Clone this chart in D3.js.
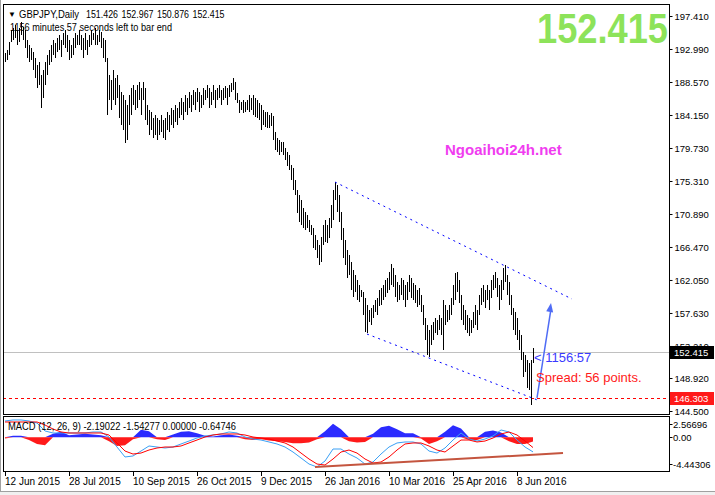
<!DOCTYPE html>
<html>
<head>
<meta charset="utf-8">
<script src="https://cdnjs.cloudflare.com/ajax/libs/d3/7.8.5/d3.min.js"></script>
<style>
body { margin: 0; background: #fff; }
text { font-family: "Liberation Sans", Arial, sans-serif; }
</style>
</head>
<body>
<script>
// daily bars, high and low, one per trading day from 12 Jun 2015
var barHigh = [
 192.45,192.86,193.9,195.5,195.8,196.2,195.5,195.8,196.6,195.9,
 195.5,194.2,193.5,193.1,192.6,191.8,190.85,191.2,189.5,190.2,
 191.2,192.2,192.9,193.5,194.2,193.8,194.5,194.9,194.2,195.1,
 195.5,194.9,194.2,193.5,194.5,195.1,194.9,195.5,194.9,194.5,
 195.1,194.2,194.9,195.5,195.1,195.8,194.9,195.5,195.3,194.5,
 194.2,191.8,189.5,188.8,190.2,189.1,189.5,188.2,187.2,186.8,
 186.2,185.5,186.8,187.8,188.2,187.5,188.2,188.6,187.8,188.6,
 187.8,185.5,184.8,184.6,183.7,184.15,183.7,183.5,184.15,183.5,
 183.7,184.6,184.15,185.1,184.8,185.5,185.1,185.9,186.4,185.9,
 186.8,186.4,187.2,186.8,187.5,187.2,187.8,187.2,186.8,187.8,
 187.5,188.2,187.8,187.2,188.2,187.5,187.8,188.2,187.5,187.8,
 188.0,187.8,188.2,188.4,189.1,188.6,187.1,186.2,185.9,186.2,
 185.9,186.2,186.8,186.4,186.8,186.4,186.2,185.8,185.5,184.8,
 184.6,184.6,184.15,184.4,184.0,181.9,181.1,180.8,180.5,180.5,
 179.7,179.2,178.8,177.45,177.0,175.4,174.1,173.4,172.8,171.7,
 171.2,170.8,170.1,169.4,169.0,168.1,167.4,166.7,167.8,169.4,
 170.1,169.4,170.3,172.1,174.1,175.2,174.8,173.4,171.2,169.0,
 167.4,166.1,165.4,164.5,163.4,162.7,162.05,161.4,160.7,160.4,
 159.6,158.7,158.0,158.3,158.7,159.4,159.6,160.7,161.0,161.4,
 162.05,162.3,163.1,164.2,163.7,162.7,161.8,161.4,162.3,162.05,
 161.4,161.8,162.7,162.3,161.6,161.4,160.7,161.0,160.0,158.7,
 156.9,156.0,155.4,156.0,156.4,156.9,156.7,157.4,156.9,159.4,
 158.7,158.0,158.7,159.6,161.4,163.0,163.1,162.05,160.0,158.7,
 158.0,157.4,156.9,156.7,157.7,158.7,158.0,160.0,161.0,161.4,
 160.7,161.4,160.7,162.05,162.7,163.1,162.3,161.4,162.05,163.7,
 164.06,162.7,161.8,160.0,158.3,157.7,156.9,155.4,154.7,152.4,
 152.0,151.3,150.9,151.3,152.967
];
var barLow = [
 191.25,191.52,192.2,193.9,194.2,194.5,193.5,193.9,194.9,194.2,
 193.1,191.8,191.2,191.5,190.2,189.1,187.8,188.2,185.1,186.4,
 188.2,189.5,190.85,191.2,192.2,191.8,192.6,192.9,191.9,193.5,
 193.1,192.6,191.5,191.8,192.2,193.1,193.5,193.5,192.9,191.8,
 192.9,192.2,193.2,193.5,194.2,193.5,193.5,193.9,193.1,191.8,
 191.2,184.15,186.2,184.8,186.2,185.5,186.4,183.7,182.8,182.1,
 180.4,180.8,182.8,184.15,185.5,184.8,185.1,186.2,184.15,186.2,
 183.5,182.8,181.5,182.1,181.1,181.5,180.8,181.5,181.9,181.1,
 180.8,182.1,181.9,182.8,182.4,183.2,182.8,183.7,184.15,183.5,
 184.6,184.15,185.1,184.6,185.5,184.8,185.9,184.6,185.1,185.5,
 186.2,186.4,185.1,185.5,186.2,185.1,186.2,186.4,185.5,186.2,
 186.4,185.5,186.6,187.2,187.5,186.2,185.8,184.4,184.8,184.4,
 184.6,184.8,184.6,184.8,184.15,183.9,183.7,183.5,182.1,182.8,
 182.5,182.4,182.4,182.7,180.8,179.5,179.2,178.8,179.2,178.8,
 178.1,177.3,176.8,175.4,174.1,173.4,171.0,169.8,169.4,169.0,
 168.75,169.0,168.5,168.1,166.3,166.1,165.0,164.06,164.5,166.7,
 167.1,167.0,167.7,169.0,170.1,172.8,171.2,169.8,167.4,165.0,
 164.1,162.3,162.7,160.7,159.8,160.4,159.4,159.1,159.8,157.4,
 155.1,154.9,156.4,156.0,157.0,157.8,157.4,158.6,158.7,159.4,
 159.8,160.3,160.7,161.4,161.1,159.8,159.1,159.4,160.0,159.4,
 158.4,159.4,160.4,159.6,159.4,158.9,158.4,158.7,157.8,156.0,
 154.0,152.0,151.7,153.3,154.0,154.9,154.7,155.4,154.7,152.7,
 156.0,156.4,156.7,157.4,158.7,159.4,160.4,158.9,156.7,156.0,
 155.4,154.9,154.5,154.9,155.6,156.0,155.4,157.4,158.7,159.1,
 158.3,159.4,158.0,159.6,160.7,161.0,159.8,158.0,159.4,160.7,
 161.8,160.0,158.7,157.4,155.4,154.7,154.0,152.7,151.3,149.0,
 149.7,147.6,147.3,145.3,150.876
];

// MACD (12, 26, 9), read every 4th bar
var macdStep = 4;
var macdMain = [
 2.42,2.57,2.57,2.42,2.12,0.93,0.63,0.63,0.63,0.63,
 0.63,0.78,0.78,0.03,-1.46,-2.95,-2.80,-2.06,-1.31,-1.46,
 -1.61,-1.46,-1.01,-0.57,-0.12,0.18,0.33,0.48,0.78,0.63,
 0.03,-0.27,-0.42,-0.71,-1.01,-1.46,-2.21,-3.10,-4.00,-4.44,
 -3.55,-1.76,-1.76,-2.51,-3.10,-4.00,-3.70,-2.51,-1.46,-0.86,
 -0.71,-0.71,-1.01,-2.06,-2.36,-1.61,-0.42,0.63,-0.27,-0.57,
 -0.27,0.18,1.08,0.78,-0.42,-1.46,-2.19
];
var macdSignal = [
 2.27,2.27,2.27,2.27,2.27,1.82,1.22,0.78,0.63,0.63,
 0.63,0.63,0.63,0.33,-0.86,-2.06,-2.51,-2.36,-1.91,-1.61,
 -1.46,-1.46,-1.31,-0.86,-0.42,0.03,0.33,0.48,0.48,0.48,
 0.33,0.03,-0.12,-0.27,-0.57,-0.86,-1.46,-2.36,-3.25,-4.00,
 -4.15,-3.25,-2.21,-1.91,-2.36,-3.25,-3.85,-3.70,-2.95,-1.91,
 -1.01,-0.86,-0.86,-1.31,-1.91,-2.21,-1.31,-0.42,-0.42,-0.71,
 -0.57,-0.12,0.48,0.78,0.33,-0.57,-1.54
];
var macdHist = [
 -0.2,0.2,0.2,-0.4,-1.0,-1.2,0.5,0.8,0.3,0.4,
 0.5,0.4,0.3,-0.6,-1.3,-1.2,-0.3,1.1,0.9,-0.3,
 -0.4,0.4,0.8,0.9,0.6,0.2,0.1,0.3,0.4,0.2,
 -0.3,-0.4,-0.3,-0.5,-0.6,-0.7,-0.9,-0.9,-0.8,-0.3,
 0.9,2.0,1.2,-0.6,-0.8,-0.7,0.5,1.5,1.7,1.2,
 0.6,0.6,-0.2,-1.0,-0.6,0.8,1.8,1.3,-0.4,-0.4,
 0.8,1.0,0.7,-0.6,-1.0,-1.0,-0.65
];

var priceTicks = [197.41,192.99,188.57,184.15,179.73,175.31,170.89,166.47,162.05,157.63,153.21,148.92,144.5];
var macdTicks = [2.56696, 0, -4.44306];
var macdTickText = ["2.56696", "0.00", "-4.44306"];
var dateBars = [0, 32, 64, 96, 128, 160, 192, 224, 256];
var dateLabels = ["12 Jun 2015","28 Jul 2015","10 Sep 2015","26 Oct 2015","9 Dec 2015","26 Jan 2016","10 Mar 2016","25 Apr 2016","8 Jun 2016"];
var headerQuotes = ["151.426", "152.967", "150.876", "152.415"];

var lastPrice = 152.415;
var markPrice = 146.303;
// drawn objects: [bar index, price]
var channelUpper = [[165, 175.17], [283.5, 159.5]];
var channelLower = [[181, 154.81], [267.5, 145.84]];
var arrowLine = [[266, 146.25], [273, 158.97]];
var macdTrend = [[155, -4.44], [279, -2.36]];

function init(){

    var w = 715;
    var h = 495;
    var left = 3, right = 669, top = 4, mainBottom = 414, subTop = 416, subBottom = 471;

    var svg = d3.select("body")
                .append("svg")
                .attr("width", w)
                .attr("height", h)
                .style("display", "block");

    svg.append("rect").attr("width", w).attr("height", h).attr("fill", "#fff");

    var x = d3.scaleLinear().domain([0, 264]).range([5, 533]);
    var y = d3.scaleLinear().domain([144.5, 197.41]).range([411, 16]);
    var my = d3.scaleLinear().domain([-4.44306, 2.56696]).range([467, 420]);

    svg.append("clipPath").attr("id", "mainClip")
        .append("rect").attr("x", left).attr("y", top)
        .attr("width", right - left).attr("height", mainBottom - top);
    svg.append("clipPath").attr("id", "subClip")
        .append("rect").attr("x", left).attr("y", subTop)
        .attr("width", right - left).attr("height", subBottom - subTop);

    var main = svg.append("g").attr("clip-path", "url(#mainClip)");

    // current price line and marked low
    main.append("line")
        .attr("x1", left).attr("x2", right)
        .attr("y1", Math.round(y(lastPrice)) + 0.5).attr("y2", Math.round(y(lastPrice)) + 0.5)
        .attr("stroke", "#c0c0c0");
    main.append("line")
        .attr("x1", left).attr("x2", right)
        .attr("y1", Math.round(y(markPrice)) + 0.5).attr("y2", Math.round(y(markPrice)) + 0.5)
        .attr("stroke", "#ff0000")
        .attr("stroke-dasharray", "3,3");

    // bars
    main.selectAll("line.bar")
        .data(barHigh)
        .enter()
        .append("line")
        .attr("class", "bar")
        .attr("x1", function(d, i){ return Math.round(x(i)) + 0.5; })
        .attr("x2", function(d, i){ return Math.round(x(i)) + 0.5; })
        .attr("y1", function(d){ return y(d); })
        .attr("y2", function(d, i){ return y(barLow[i]); })
        .attr("stroke", "#000")
        .attr("stroke-width", 1)
        .attr("shape-rendering", "crispEdges");

    // channel
    var line = d3.line()
        .x(function(d){ return x(d[0]); })
        .y(function(d){ return y(d[1]); });
    [channelUpper, channelLower].forEach(function(c){
        main.append("path")
            .attr("d", line(c))
            .attr("fill", "none")
            .attr("stroke", "#0000ff")
            .attr("stroke-width", 1)
            .attr("stroke-dasharray", "2,4");
    });

    // arrow
    var ax1 = x(arrowLine[0][0]), ay1 = y(arrowLine[0][1]);
    var ax2 = x(arrowLine[1][0]), ay2 = y(arrowLine[1][1]);
    main.append("line")
        .attr("x1", ax1).attr("y1", ay1).attr("x2", ax2).attr("y2", ay2 + 6)
        .attr("stroke", "#4f6cf5").attr("stroke-width", 1.5);
    var ang = Math.atan2(ay2 - ay1, ax2 - ax1);
    var hl = 9, hw = 3.5;
    var bx = ax2 - hl * Math.cos(ang), by = ay2 - hl * Math.sin(ang);
    main.append("path")
        .attr("d", "M" + ax2 + "," + ay2 +
            "L" + (bx + hw * Math.sin(ang)) + "," + (by - hw * Math.cos(ang)) +
            "L" + (bx - hw * Math.sin(ang)) + "," + (by + hw * Math.cos(ang)) + "Z")
        .attr("fill", "#4f6cf5");

    // header
    svg.append("text").attr("x", 8).attr("y", 17)
        .style("font-size", "8px")
        .text("\u25BC");
    svg.append("text").attr("x", 19).attr("y", 18)
        .style("font-size", "10.5px")
        .attr("textLength", 60).attr("lengthAdjust", "spacingAndGlyphs")
        .text("GBPJPY,Daily");
    headerQuotes.forEach(function(q, i){
        svg.append("text").attr("x", 86 + i * 35.5).attr("y", 18)
            .style("font-size", "10.5px")
            .attr("textLength", 32).attr("lengthAdjust", "spacingAndGlyphs")
            .text(q);
    });
    svg.append("text").attr("x", 10).attr("y", 31)
        .style("font-size", "10.5px")
        .attr("textLength", 162).attr("lengthAdjust", "spacingAndGlyphs")
        .text("1156 minutes 57 seconds left to bar end");

    svg.append("text")
        .attr("transform", "translate(537,43) scale(1,1.2)")
        .attr("textLength", 131).attr("lengthAdjust", "spacingAndGlyphs")
        .style("font-size", "36px").style("font-weight", "bold")
        .attr("fill", "#8de35a")
        .text("152.415");

    svg.append("text").attr("x", 445).attr("y", 155)
        .style("font-size", "15px").style("font-weight", "bold")
        .attr("fill", "#f03cf0")
        .text("Ngoaihoi24h.net");

    svg.append("text").attr("x", 534).attr("y", 362)
        .style("font-size", "13px")
        .attr("fill", "#3a3aff")
        .text("< 1156:57");
    svg.append("text").attr("x", 536).attr("y", 382)
        .style("font-size", "13px")
        .attr("fill", "#ff1a1a")
        .text("Spread: 56 points.");

    // MACD window
    var sub = svg.append("g").attr("clip-path", "url(#subClip)");
    var sx = function(d, i){ return x(i * macdStep); };

    sub.append("path")
        .datum(macdHist)
        .attr("d", d3.area().x(sx).y0(my(0)).y1(function(d){ return my(Math.max(d, 0)); }))
        .attr("fill", "#2b2bff");
    sub.append("path")
        .datum(macdHist)
        .attr("d", d3.area().x(sx).y0(my(0)).y1(function(d){ return my(Math.min(d, 0)); }))
        .attr("fill", "#ff1a1a");

    sub.append("path")
        .datum(macdMain)
        .attr("d", d3.line().x(sx).y(function(d){ return my(d); }))
        .attr("fill", "none").attr("stroke", "#3aa0f5").attr("stroke-width", 1);
    sub.append("path")
        .datum(macdSignal)
        .attr("d", d3.line().x(sx).y(function(d){ return my(d); }))
        .attr("fill", "none").attr("stroke", "#ff0000").attr("stroke-width", 1);

    sub.append("path")
        .datum(macdTrend)
        .attr("d", d3.line().x(function(d){ return x(d[0]); }).y(function(d){ return my(d[1]); }))
        .attr("fill", "none").attr("stroke", "#c4553f").attr("stroke-width", 2);

    svg.append("text").attr("x", 8).attr("y", 430)
        .style("font-size", "10.5px")
        .attr("textLength", 228).attr("lengthAdjust", "spacingAndGlyphs")
        .text("MACD (12, 26, 9) -2.19022 -1.54277 0.00000 -0.64746");

    // frames
    svg.append("rect")
        .attr("x", left + 0.5).attr("y", top + 0.5)
        .attr("width", right - left).attr("height", mainBottom - top)
        .attr("fill", "none").attr("stroke", "#000");
    svg.append("rect")
        .attr("x", left + 0.5).attr("y", subTop + 0.5)
        .attr("width", right - left).attr("height", subBottom - subTop)
        .attr("fill", "none").attr("stroke", "#000");

    // price axis
    var yAxis = d3.axisRight(y)
        .tickValues(priceTicks)
        .tickSize(3)
        .tickPadding(2)
        .tickFormat(d3.format(".3f"));
    var ya = svg.append("g")
        .attr("transform", "translate(" + (right + 0.5) + ",0)")
        .call(yAxis);
    ya.select(".domain").remove();
    ya.selectAll("text").style("font-size", "9.5px").attr("fill", "#000")
        .style("font-family", "'Liberation Sans', Arial, sans-serif");
    ya.selectAll("line").attr("stroke", "#000");

    // price labels
    [[lastPrice, "#000"], [markPrice, "#ff1a1a"]].forEach(function(p){
        var py = Math.round(y(p[0]));
        svg.append("rect")
            .attr("x", right + 1).attr("y", py - 6)
            .attr("width", 44).attr("height", 13)
            .attr("fill", p[1]);
        svg.append("text")
            .attr("x", right + 5).attr("y", py + 4)
            .style("font-size", "9.5px")
            .attr("fill", "#fff")
            .text(p[0].toFixed(3));
    });

    // MACD axis
    macdTicks.forEach(function(v, i){
        var ty = Math.min(Math.max(Math.round(my(v)), 424), 464) + 0.5;
        svg.append("line")
            .attr("x1", right + 0.5).attr("x2", right + 3.5)
            .attr("y1", ty).attr("y2", ty)
            .attr("stroke", "#000");
        svg.append("text")
            .attr("x", right + 4).attr("y", ty + 3.5)
            .style("font-size", "9.5px")
            .text(macdTickText[i]);
    });

    // date axis
    var da = svg.append("g");
    da.selectAll("line")
        .data(dateBars)
        .enter()
        .append("line")
        .attr("x1", function(d){ return Math.round(x(d)) + 0.5; })
        .attr("x2", function(d){ return Math.round(x(d)) + 0.5; })
        .attr("y1", subBottom).attr("y2", subBottom + 5)
        .attr("stroke", "#000");
    da.selectAll("text")
        .data(dateBars)
        .enter()
        .append("text")
        .attr("x", function(d){ return Math.round(x(d)); })
        .attr("y", 485)
        .style("font-size", "10px")
        .text(function(d, i){ return dateLabels[i]; });

    // window edge
    svg.append("rect").attr("x", 0).attr("y", 491).attr("width", w).attr("height", 4).attr("fill", "#f0f0f0");
    svg.append("line").attr("x1", 0).attr("x2", w).attr("y1", 491.5).attr("y2", 491.5).attr("stroke", "#a0a0a0");
    svg.append("line").attr("x1", 0.5).attr("x2", 0.5).attr("y1", 0).attr("y2", 491).attr("stroke", "#a0a0a0");
}

window.onload = init;
</script>
</body>
</html>
